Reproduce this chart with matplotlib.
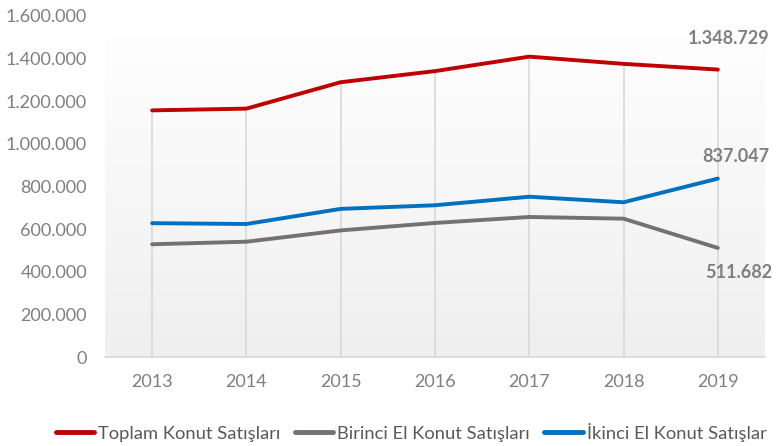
import matplotlib
matplotlib.use("Agg")
import matplotlib.pyplot as plt
import numpy as np
from matplotlib.ticker import FuncFormatter
from matplotlib.colors import LinearSegmentedColormap

years = ["2013", "2014", "2015", "2016", "2017", "2018", "2019"]
toplam = [1157190, 1165381, 1289320, 1341453, 1409314, 1375398, 1348729]
birinci = [529000, 541000, 594000, 629000, 657000, 649000, 511682]
ikinci = [628000, 624000, 695000, 712000, 752000, 726000, 837047]
labels = ["Toplam Konut Satışları", "Birinci El Konut Satışları", "İkinci El Konut Satışlar"]

C_RED = "#C00000"
C_GRAY = "#767171"
C_BLUE = "#0070C0"
TXT = "#7F7F7F"

plt.rcParams['font.family'] = ['Liberation Sans Narrow', 'Lato', 'DejaVu Sans']

fig = plt.figure(figsize=(7.76, 4.46), dpi=100)
ax = fig.add_axes([105/776, (446-357)/446, 660/776, 341/446])

x = np.arange(len(years))
ax.set_xlim(-0.5, len(years) - 0.5)
ax.set_ylim(0, 1600000)

# gradient background
grad = np.linspace(0, 1, 256).reshape(-1, 1)
cmap = LinearSegmentedColormap.from_list("g", ["#EFEFEF", "#FFFFFF"])
ax.imshow(grad, extent=[-0.5, len(years) - 0.5, 0, 1600000], origin="lower",
          aspect="auto", cmap=cmap, zorder=0)

# drop lines
tops = np.maximum.reduce([toplam, birinci, ikinci])
ax.vlines(x, 0, tops, color="#D9D9D9", lw=1.2, zorder=1)

l1, = ax.plot(x, toplam, color=C_RED, lw=2.8, zorder=3, solid_capstyle="round")
l2, = ax.plot(x, birinci, color=C_GRAY, lw=2.8, zorder=3, solid_capstyle="round")
l3, = ax.plot(x, ikinci, color=C_BLUE, lw=2.8, zorder=3, solid_capstyle="round")

def fmt(v):
    return f"{int(round(v)):,}".replace(",", ".")

lab_kw = dict(textcoords="offset points", ha="center", va="center", fontsize=13,
              fontweight="bold", color=TXT, family=['Lato', 'DejaVu Sans'])
ax.annotate(fmt(toplam[-1]), (x[-1], toplam[-1]), xytext=(8, 22), **lab_kw)
ax.annotate(fmt(ikinci[-1]), (x[-1], ikinci[-1]), xytext=(13, 16), **lab_kw)
ax.annotate(fmt(birinci[-1]), (x[-1], birinci[-1]), xytext=(15, -18), **lab_kw)

ax.set_xticks(x)
ax.set_xticklabels(years)
ax.set_yticks(np.arange(0, 1600001, 200000))
ax.yaxis.set_major_formatter(FuncFormatter(lambda v, p: fmt(v)))
ax.tick_params(axis="both", length=0, colors=TXT, labelsize=13)
ax.tick_params(axis="y", pad=13)
ax.tick_params(axis="x", pad=12)
for lab in ax.get_xticklabels() + ax.get_yticklabels():
    lab.set_family(['Lato', 'DejaVu Sans'])
for s in ["top", "right", "left"]:
    ax.spines[s].set_visible(False)
ax.spines["bottom"].set_color("#D9D9D9")
ax.spines["bottom"].set_linewidth(1.2)

leg = fig.legend([l1, l2, l3], labels, loc="center", bbox_to_anchor=(411/776, 1 - 432/446),
                 ncol=3, frameon=False, fontsize=13.2, handlelength=2.1, handletextpad=0.2,
                 columnspacing=0.8)
for t in leg.get_texts():
    t.set_color("#595959")
for h in leg.legend_handles:
    h.set_linewidth(3.5)

fig.savefig("out.png", dpi=100)
